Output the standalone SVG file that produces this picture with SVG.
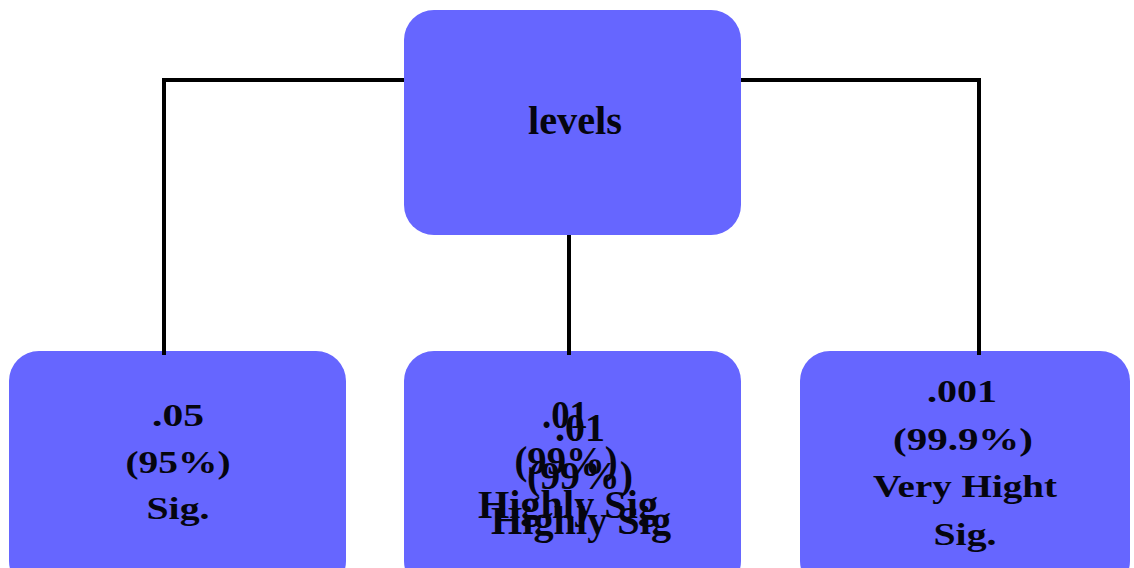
<svg xmlns="http://www.w3.org/2000/svg" width="1134" height="568" viewBox="0 0 1134 568">
  <style>
    .box { fill: #6666ff; }
    .lbl { font-family: "Liberation Serif", "Times New Roman", serif; font-weight: bold; fill: #05050f; text-anchor: middle; }
    .conn { stroke: #000; stroke-width: 4; fill: none; }
  </style>
  <rect width="1134" height="568" fill="#ffffff"/>

  <!-- top node -->
  <g id="node-levels">
    <rect class="box" x="404" y="10" width="337" height="225" rx="30" ry="30"/>
    <text class="lbl" x="575" y="134" font-size="40" textLength="94" lengthAdjust="spacingAndGlyphs">levels</text>
  </g>

  <!-- 0.05 level -->
  <g id="node-05">
    <rect class="box" x="9" y="351" width="337" height="240" rx="30" ry="30"/>
    <text class="lbl" x="178" y="426" font-size="32" textLength="52" lengthAdjust="spacingAndGlyphs">.05</text>
    <text class="lbl" x="178" y="473" font-size="32" textLength="105" lengthAdjust="spacingAndGlyphs">(95%)</text>
    <text class="lbl" x="178" y="519" font-size="32" textLength="63" lengthAdjust="spacingAndGlyphs">Sig.</text>
  </g>

  <!-- 0.01 level (label printed twice, slightly offset) -->
  <g id="node-01">
    <rect class="box" x="404" y="351" width="337" height="240" rx="30" ry="30"/>
    <text class="lbl" x="565" y="428" font-size="40" textLength="46" lengthAdjust="spacingAndGlyphs">.01</text>
    <text class="lbl" x="566" y="474" font-size="40" textLength="103" lengthAdjust="spacingAndGlyphs">(99%)</text>
    <text class="lbl" x="568" y="518" font-size="40" textLength="180" lengthAdjust="spacingAndGlyphs">Highly Sig</text>
    <text class="lbl" x="580" y="441" font-size="40" textLength="50" lengthAdjust="spacingAndGlyphs">.01</text>
    <text class="lbl" x="580" y="489" font-size="40" textLength="106" lengthAdjust="spacingAndGlyphs">(99%)</text>
    <text class="lbl" x="581" y="534" font-size="40" textLength="180" lengthAdjust="spacingAndGlyphs">Highly Sig</text>
  </g>

  <!-- 0.001 level -->
  <g id="node-001">
    <rect class="box" x="800" y="351" width="330" height="240" rx="30" ry="30"/>
    <text class="lbl" x="962" y="402" font-size="32" textLength="70" lengthAdjust="spacingAndGlyphs">.001</text>
    <text class="lbl" x="963" y="450" font-size="32" textLength="140" lengthAdjust="spacingAndGlyphs">(99.9%)</text>
    <text class="lbl" x="965" y="497" font-size="32" textLength="184" lengthAdjust="spacingAndGlyphs">Very Hight</text>
    <text class="lbl" x="965" y="545" font-size="32" textLength="63" lengthAdjust="spacingAndGlyphs">Sig.</text>
  </g>

  <!-- tree connectors -->
  <g id="connectors">
    <polyline class="conn" points="404,80 164,80 164,355"/>
    <polyline class="conn" points="741,80 979,80 979,355"/>
    <line class="conn" x1="569" y1="235" x2="569" y2="355"/>
  </g>
</svg>
